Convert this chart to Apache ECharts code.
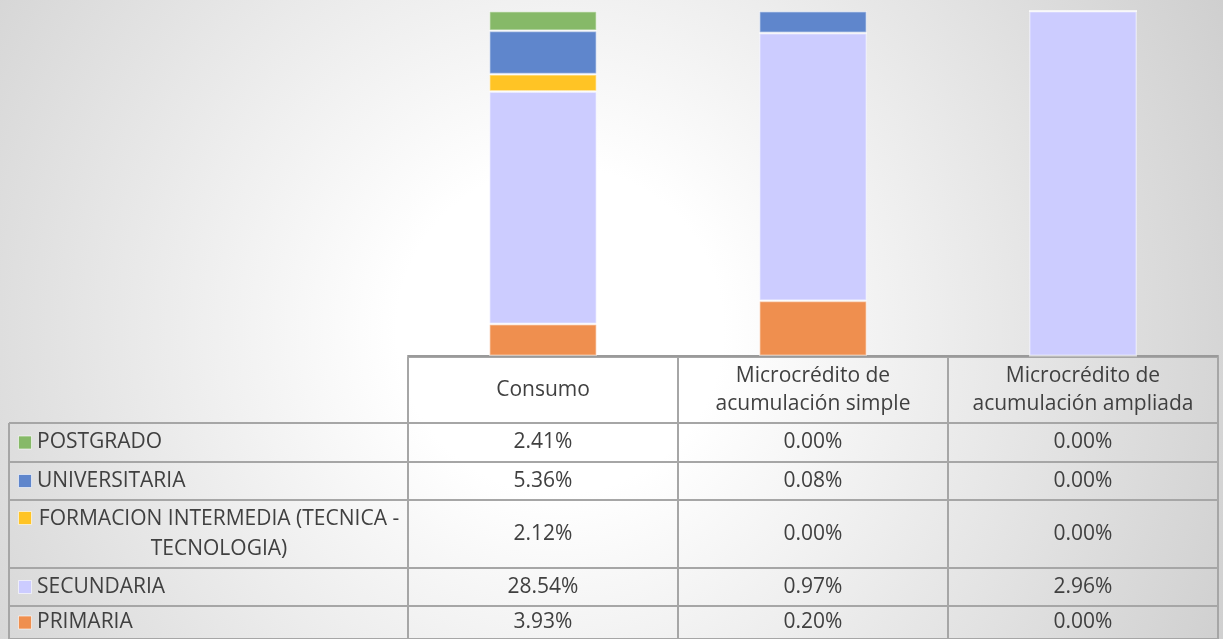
<!DOCTYPE html>
<html>
<head>
<meta charset="utf-8">
<script src="https://cdn.jsdelivr.net/npm/echarts@6/dist/echarts.min.js"></script>
<style>
  html, body { margin: 0; padding: 0; }
  #chart {
    width: 1223px; height: 639px;
    background: radial-gradient(circle farthest-corner at 560px 330px, #ffffff 0%, #ffffff 22%, #cfcfcf 100%);
  }
</style>
</head>
<body>
<div id="chart"></div>
<script>
// categorias (columnas)
var categorias = ['Consumo', 'Microcrédito de\nacumulación simple', 'Microcrédito de\nacumulación ampliada'];
// niveles educativos, en orden de la tabla (arriba -> abajo)
var niveles = ['POSTGRADO', 'UNIVERSITARIA', 'FORMACION INTERMEDIA (TECNICA -\nTECNOLOGIA)', 'SECUNDARIA', 'PRIMARIA'];
var colores = ['#86b968', '#5f86cc', '#ffc425', '#ccccff', '#ef8f4f'];
// valores en %
var postgrado = [2.41, 0.00, 0.00];
var universitaria = [5.36, 0.08, 0.00];
var formacion = [2.12, 0.00, 0.00];
var secundaria = [28.54, 0.97, 2.96];
var primaria = [3.93, 0.20, 0.00];

var valores = [postgrado, universitaria, formacion, secundaria, primaria];

var font = '"Open Sans", "Noto Sans", sans-serif';
var fs = 21;
var textColor = '#404040';
var lineColor = '#a6a6a6';

// totales por columna para apilar al 100%
var totales = categorias.map(function (c, i) {
  var t = 0;
  valores.forEach(function (v) { t += v[i]; });
  return t;
});

// geometria de la tabla
var colX = [408, 678, 948, 1218];
var rowY = [357, 423, 462, 500, 568, 606, 639];
var leftX = 9;

var graphic = [];
function linea(x1, y1, x2, y2) {
  graphic.push({ type: 'line', shape: { x1: x1, y1: y1, x2: x2, y2: y2 },
    style: { stroke: lineColor, lineWidth: 2 }, silent: true });
}
// horizontales
linea(colX[0], rowY[0], colX[3], rowY[0]);
for (var r = 1; r < rowY.length; r++) linea(leftX, rowY[r], colX[3], rowY[r]);
// verticales
linea(leftX, rowY[1], leftX, 639);
colX.forEach(function (x) { linea(x, rowY[0], x, 639); });

// encabezados
categorias.forEach(function (c, i) {
  graphic.push({ type: 'text', x: (colX[i] + colX[i + 1]) / 2, y: (rowY[0] + rowY[1]) / 2,
    style: { text: c, font: fs + 'px ' + font, fill: textColor, align: 'center', verticalAlign: 'middle', lineHeight: 28 } });
});

// filas
niveles.forEach(function (n, k) {
  var yc = (rowY[k + 1] + rowY[k + 2]) / 2;
  var multi = n.indexOf('\n') >= 0;
  var my = multi ? rowY[k + 1] + 18 : yc;
  graphic.push({ type: 'rect', shape: { x: 18.5, y: my - 6.5, width: 13, height: 13 },
    style: { fill: colores[k], stroke: 'rgba(255,255,255,0.6)', lineWidth: 1 } });
  if (multi) {
    graphic.push({ type: 'text', x: 219, y: yc,
      style: { text: n, font: fs + 'px ' + font, fill: textColor, align: 'center', verticalAlign: 'middle', lineHeight: 30 } });
  } else {
    graphic.push({ type: 'text', x: 37, y: yc,
      style: { text: n, font: fs + 'px ' + font, fill: textColor, align: 'left', verticalAlign: 'middle' } });
  }
  valores[k].forEach(function (v, i) {
    graphic.push({ type: 'text', x: (colX[i] + colX[i + 1]) / 2, y: yc,
      style: { text: v.toFixed(2) + '%', font: fs + 'px ' + font, fill: textColor, align: 'center', verticalAlign: 'middle' } });
  });
});

// series apiladas, de abajo hacia arriba
var series = [];
for (var k = niveles.length - 1; k >= 0; k--) {
  series.push({
    name: niveles[k],
    type: 'bar',
    stack: 'total',
    barWidth: '40%',
    data: valores[k].map(function (v, i) { return v / totales[i] * 100; }),
    itemStyle: { color: colores[k], borderColor: 'rgba(255,255,255,0.45)', borderWidth: 1.5 },
    silent: true
  });
}

var chart = echarts.init(document.getElementById('chart'));
chart.setOption({
  backgroundColor: 'transparent',
  animation: false,
  grid: { left: 408, right: 5, top: 11, bottom: 283 },
  xAxis: {
    type: 'category',
    data: categorias,
    axisLine: { show: true, lineStyle: { color: '#9a9a9a', width: 2 } },
    axisTick: { show: false },
    axisLabel: { show: false }
  },
  yAxis: { type: 'value', min: 0, max: 100, show: false },
  series: series,
  graphic: graphic
});
</script>
</body>
</html>
